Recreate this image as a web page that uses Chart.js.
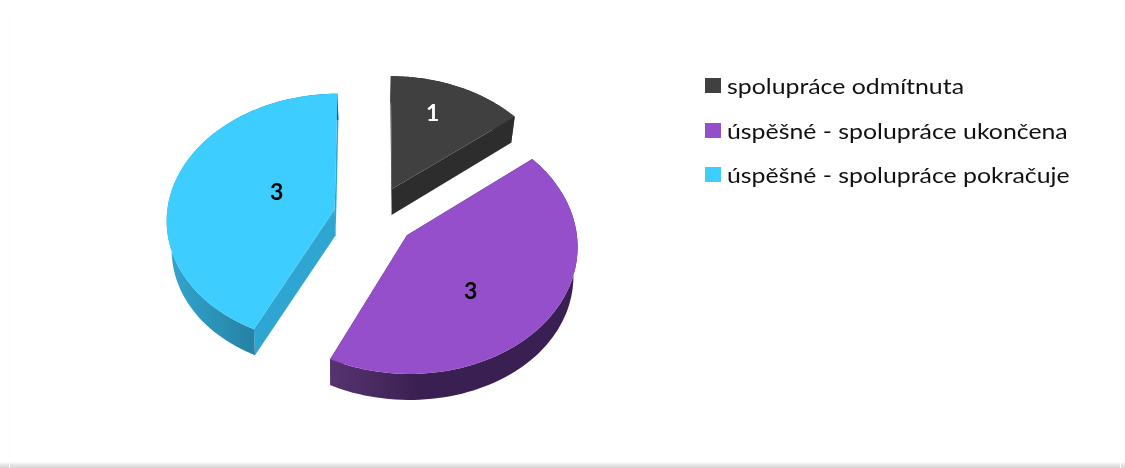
<!DOCTYPE html>
<html>
<head>
<meta charset="utf-8">
<style>
html, body { margin: 0; padding: 0; background: #fff; }
#wrap { position: relative; width: 1125px; height: 468px; overflow: hidden; background: linear-gradient(to bottom, #fff 462px, #ececec 464px, #d4d4d4 468px); }
#wrap::before { content: ''; position: absolute; left: 9px; top: 12px; right: 4px; bottom: 0; border: 1px solid #fcfcfc; border-bottom: 0; }
#myChart { position: relative; }
#legend { position: absolute; left: 705px; top: 64px; margin: 0; padding: 0; list-style: none; }
#legend li { position: relative; height: 44.5px; width: 400px; }
#legend i { position: absolute; left: 0; top: 14px; width: 16px; height: 15px; }
#legend span { position: absolute; left: 22px; top: 10px; font: 21px/24px Lato; color: #111; white-space: nowrap; transform: scaleX(1.183); transform-origin: left center; }
</style>
<script src="https://cdn.jsdelivr.net/npm/chart.js@4"></script>
</head>
<body>
<div id="wrap"><canvas id="myChart" width="1125" height="468"></canvas><ul id="legend"></ul></div>
<script>
const categories = ['spolupráce odmítnuta', 'úspěšné - spolupráce ukončena', 'úspěšné - spolupráce pokračuje'];
const values = [1, 3, 3];
const topColors = ['#404040', '#954fca', '#3dcdff'];
const cutColors = ['#2d2d2d', '#3b1e50', '#2fa6d2'];
const wallColors = [['#2d2d2d', '#2d2d2d'], ['#56346f', '#3a1f52'], ['#33a6cf', '#17607a']];
const labelColors = ['#ffffff', '#000000', '#000000'];
// where the value labels sit: along the slice, then a nudge in screen px
const labelRadius = [0.6, 0.45, 0.36];
const labelNudge = [[0, -12], [2, 20], [0, -7]];

const TILT = 0.745;     // vertical squash
const PERSP = 0.00045;  // front of the pie is a bit larger
const DEPTH = 26;       // wall height

const project = (el, px, py) => {
    const s = 1 / (1 - PERSP * py);
    return { x: el.x + px * s, y: el.y + TILT * py * s };
};
// bottom face is a bit smaller, mostly at the back
const lower = (el, p) => {
    const f = 0.975 + 0.02 * Math.max(0, (p.y - el.y) / 140);
    return { x: el.x + (p.x - el.x) * f, y: p.y + DEPTH };
};

const fillPoly = (ctx, pts, fill) => {
    ctx.beginPath();
    pts.forEach((p, i) => i ? ctx.lineTo(p.x, p.y) : ctx.moveTo(p.x, p.y));
    ctx.closePath();
    ctx.fillStyle = fill;
    ctx.fill();
};

const pie3d = {
    id: 'pie3d',
    beforeDatasetDraw(chart) {
        const ctx = chart.ctx;
        const arcs = chart.getDatasetMeta(0).data;
        arcs.forEach((el, i) => {
            const mid = (el.startAngle + el.endAngle) / 2;
            const off = el.options.offset;
            const ax = Math.cos(mid) * off, ay = Math.sin(mid) * off;
            const apex = project(el, ax, ay);
            const rim = [];
            for (let k = 0; k <= 80; k++) {
                const a = el.startAngle + (el.endAngle - el.startAngle) * k / 80;
                rim.push(project(el, ax + Math.cos(a) * el.outerRadius, ay + Math.sin(a) * el.outerRadius));
            }
            const rimLow = rim.map(p => lower(el, p));
            const apexLow = lower(el, apex);
            const first = rim[0], last = rim[rim.length - 1];

            // the two cut faces
            fillPoly(ctx, [apex, first, rimLow[0], apexLow], cutColors[i]);
            fillPoly(ctx, [apex, last, rimLow[rimLow.length - 1], apexLow], cutColors[i]);
            // outer wall, shaded left to right
            const xs = rim.map(p => p.x);
            const minX = Math.min(...xs);
            const maxX = i === 1 ? minX + 90 : Math.max(...xs);
            const g = ctx.createLinearGradient(minX, 0, maxX, 0);
            g.addColorStop(0, wallColors[i][0]);
            g.addColorStop(1, wallColors[i][1]);
            fillPoly(ctx, rim.concat(rimLow.slice().reverse()), g);
            // top face
            fillPoly(ctx, [apex].concat(rim), topColors[i]);

            // value label
            const r = el.outerRadius * labelRadius[i];
            const t = project(el, ax + Math.cos(mid) * r, ay + Math.sin(mid) * r);
            ctx.fillStyle = labelColors[i];
            ctx.font = 'bold 23px Lato';
            ctx.textAlign = 'center';
            ctx.textBaseline = 'middle';
            ctx.fillText(String(values[i]), t.x + labelNudge[i][0], t.y + labelNudge[i][1]);
        });
        return false;
    }
};

// html legend, the canvas one can't do the wide lettering of the original
const htmlLegend = {
    id: 'htmlLegend',
    afterUpdate(chart) {
        const ul = document.getElementById('legend');
        ul.innerHTML = '';
        chart.options.plugins.legend.labels.generateLabels(chart).forEach(item => {
            const li = document.createElement('li');
            const box = document.createElement('i');
            box.style.background = item.fillStyle;
            const text = document.createElement('span');
            text.textContent = item.text;
            li.appendChild(box);
            li.appendChild(text);
            ul.appendChild(li);
        });
    }
};

new Chart(document.getElementById('myChart').getContext('2d'), {
    type: 'pie',
    data: {
        labels: categories,
        datasets: [{
            data: values,
            backgroundColor: topColors,
            borderWidth: 0,
            offset: 41
        }]
    },
    options: {
        responsive: false,
        animation: false,
        radius: 168,
        layout: { padding: { left: 49, right: 425, top: 60, bottom: 96 } },
        plugins: {
            tooltip: { enabled: false },
            legend: { display: false }
        }
    },
    plugins: [pie3d, htmlLegend]
});
</script>
</body>
</html>
